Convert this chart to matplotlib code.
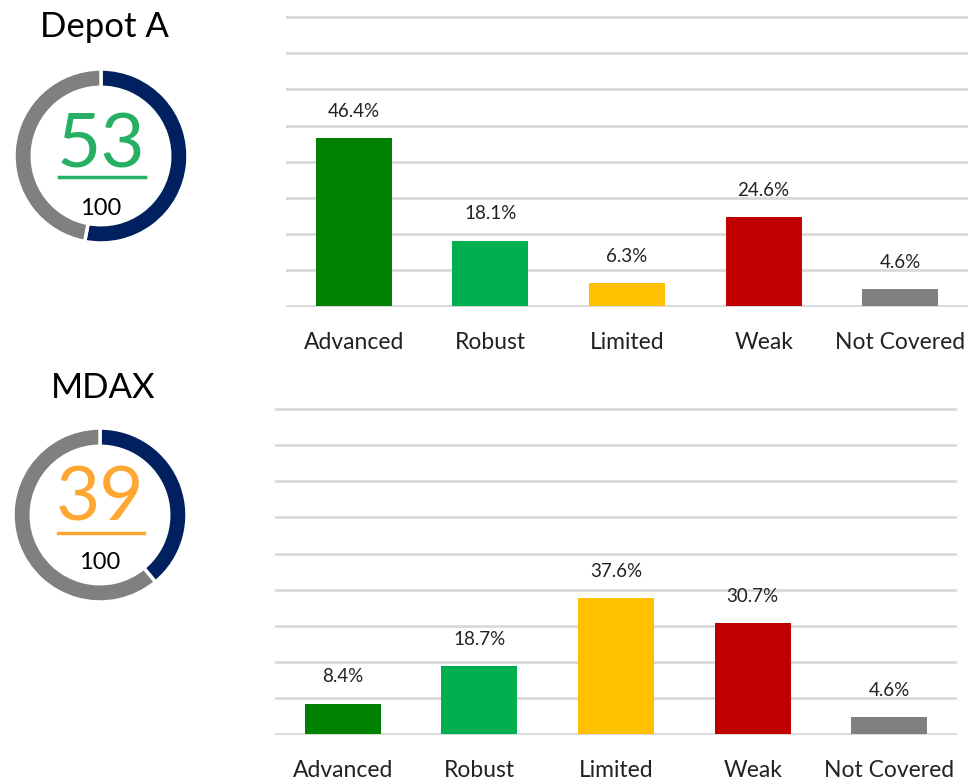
import matplotlib
matplotlib.use("Agg")
import matplotlib.pyplot as plt
from matplotlib.lines import Line2D

categories = ["Advanced", "Robust", "Limited", "Weak", "Not Covered"]
depot_values = [46.4, 18.1, 6.3, 24.6, 4.6]
mdax_values = [8.4, 18.7, 37.6, 30.7, 4.6]
depot_score = 53
mdax_score = 39
score_max = 100
titles = ["Depot A", "MDAX"]

bar_colors = ["#008000", "#00B050", "#FFC000", "#C00000", "#808080"]
navy = "#002060"
ring_gray = "#808080"
grid_color = "#D9D9D9"
FONT = ["Lato", "DejaVu Sans"]

W, H = 969, 781
fig = plt.figure(figsize=(W / 100, H / 100), dpi=100)


def px_axes(left, top, width, height):
    return fig.add_axes([left / W, 1 - (top + height) / H, width / W, height / H])


def bar_panel(left, base, ymax, values):
    ppu = 3.61
    bot_lim = -0.4
    top_lim = ymax + 0.6
    height = (top_lim - bot_lim) * ppu
    ax = px_axes(left, base - top_lim * ppu, 683, height)
    x = list(range(len(categories)))
    bars = ax.bar(x, values, width=0.556, color=bar_colors, zorder=3)
    ax.set_xlim(-0.5, len(categories) - 0.5)
    ax.set_ylim(bot_lim, top_lim)
    ax.set_yticks(range(0, ymax + 1, 10))
    ax.yaxis.grid(True, color=grid_color, linewidth=2, zorder=0)
    ax.set_axisbelow(True)
    for s in ax.spines.values():
        s.set_visible(False)
    ax.tick_params(axis="y", left=False, labelleft=False)
    ax.tick_params(axis="x", bottom=False, pad=14)
    ax.set_xticks(x)
    ax.set_xticklabels(categories, fontsize=16.5, family=FONT, color="#222222")
    for b, v in zip(bars, values):
        ax.annotate(f"{v:.1f}%", (b.get_x() + b.get_width() / 2, v),
                    xytext=(0, 19.5), textcoords="offset points",
                    ha="center", va="center", fontsize=13.5, family=FONT,
                    color="#222222")
    return ax


def donut(cx, cy, score, color, title, title_y, num_dy, line_dy, den_dy):
    r = 87
    lim = 1.08
    size = 2 * r * lim
    ax = px_axes(cx - size / 2, cy - size / 2, size, size)
    ax.pie([score, score_max - score], colors=[navy, ring_gray], startangle=90,
           counterclock=False, radius=1,
           wedgeprops=dict(width=0.21, edgecolor="white", linewidth=2.5))
    ax.set_xlim(-lim, lim)
    ax.set_ylim(-lim, lim)
    ax.set_aspect("equal")
    ax.axis("off")
    ax.text(0, num_dy, str(score), ha="center", va="center", fontsize=55,
            family=FONT, fontweight="normal", color=color)
    ax.add_line(Line2D([-0.48, 0.5], [line_dy, line_dy], color=color, linewidth=2.5))
    ax.text(0, den_dy, str(score_max), ha="center", va="center", fontsize=17,
            family=FONT, color="black")
    fig.text((cx + 3) / W, 1 - title_y / H, title, ha="center", va="center",
             fontsize=25, family=FONT, color="black")


bar_panel(285.5, 306, 80, depot_values)
bar_panel(274.5, 734, 90, mdax_values)

donut(101, 156, depot_score, "#27B064", titles[0], 27, 0.11, -0.24, -0.6)
donut(100, 515, mdax_score, "#FFA733", titles[1], 388, 0.18, -0.21, -0.55)

fig.savefig("out.png", dpi=100, facecolor="white")
